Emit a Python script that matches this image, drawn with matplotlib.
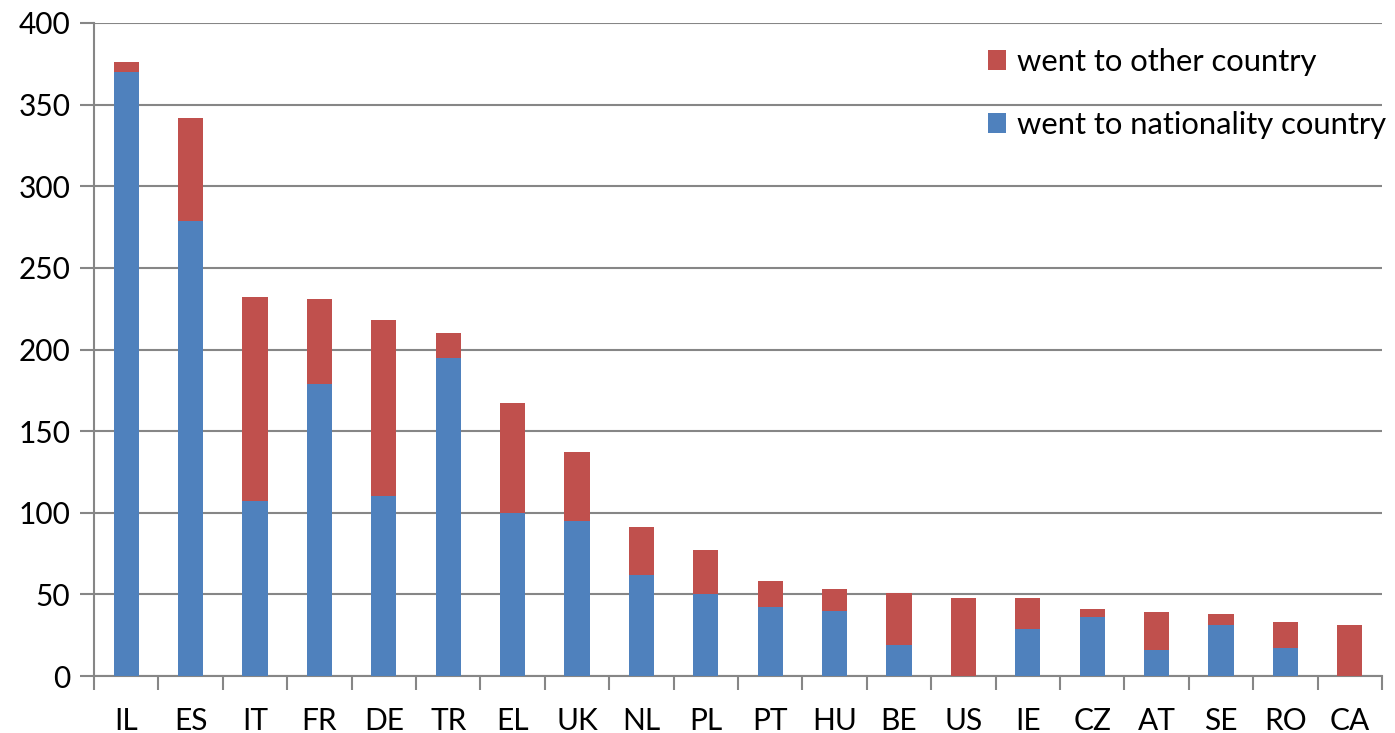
import matplotlib
matplotlib.use("Agg")
import matplotlib.pyplot as plt
import numpy as np

categories = ["IL", "ES", "IT", "FR", "DE", "TR", "EL", "UK", "NL", "PL",
              "PT", "HU", "BE", "US", "IE", "CZ", "AT", "SE", "RO", "CA"]
nationality = [370, 279, 107, 179, 110, 195, 100, 95, 62, 50,
               42, 40, 19, 0, 29, 36, 16, 31, 17, 0]
totals = [376, 342, 232, 231, 218, 210, 167, 137, 91, 77,
          58, 53, 51, 48, 48, 41, 39, 38, 33, 31]
other = [t - n for t, n in zip(totals, nationality)]

plt.rcParams['font.family'] = ['Lato', 'DejaVu Sans']

fig = plt.figure(figsize=(13.95, 7.33), dpi=100)
ax = fig.add_axes([94/1395, 1 - 676/733, (1382-94)/1395, (676-23)/733])

x = np.arange(len(categories))
w = 0.39
blue = "#4F81BD"
red = "#C0504D"
b1 = ax.bar(x, nationality, w, color=blue, label="went to nationality country", zorder=3)
b2 = ax.bar(x, other, w, bottom=nationality, color=red, label="went to other country", zorder=3)

ax.set_xlim(-0.5, len(categories) - 0.5)
ax.set_ylim(0, 400)
ax.set_yticks(np.arange(0, 401, 50))
ax.yaxis.grid(True, color="#868686", linewidth=1.5, zorder=0)
ax.set_axisbelow(True)

ax.set_xticks(x)
ax.set_xticklabels(categories, fontsize=21.5)
ax.tick_params(axis='x', length=0, pad=22)
ax.set_xticks(np.arange(-0.5, len(categories)), minor=True)
ax.tick_params(axis='x', which='minor', length=10, width=1.5, color="#868686", direction='out')
ax.tick_params(axis='y', length=10, width=1.5, color="#868686", labelsize=21.5, pad=7)

for s in ["top", "right"]:
    ax.spines[s].set_visible(False)
for s in ["left", "bottom"]:
    ax.spines[s].set_color("#868686")
    ax.spines[s].set_linewidth(1.5)

leg = ax.legend(handles=[b2, b1], loc="upper right", bbox_to_anchor=(1.02, 0.995),
                frameon=False, fontsize=22.3, labelspacing=1.12,
                handlelength=0.6, handleheight=0.6, handletextpad=0.35,
                borderaxespad=0.3)

fig.savefig("out.png", dpi=100)
